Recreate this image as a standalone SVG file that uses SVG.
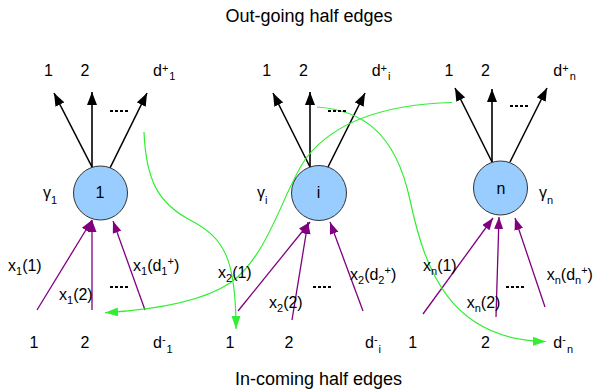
<svg xmlns="http://www.w3.org/2000/svg" width="596" height="389" viewBox="0 0 596 389">
<style>
text{font-family:"Liberation Sans",Arial,sans-serif;fill:#000;font-size:16px}
.t{font-size:18px}
.s{font-size:11px}
.node{fill:#99CCFF;stroke:#333;stroke-width:1}
.out{stroke:#000;stroke-width:1.6;fill:none;marker-end:url(#ab)}
.in{stroke:#800080;stroke-width:1.3;fill:none;marker-end:url(#ap)}
.g{stroke:#33EE33;stroke-width:1.2;fill:none;marker-end:url(#ag)}
.nog{stroke:#33EE33;stroke-width:1.2;fill:none}
.dots{stroke:#000;stroke-width:2;stroke-dasharray:3 2}
</style>
<defs>
<marker id="ab" markerUnits="userSpaceOnUse" markerWidth="14" markerHeight="10" refX="13" refY="5" orient="auto"><path d="M0,0 L13,5 L0,10 z" fill="#000"/></marker>
<marker id="ap" markerUnits="userSpaceOnUse" markerWidth="13" markerHeight="10" refX="12" refY="4.5" orient="auto"><path d="M0,0 L12,4.5 L0,9 z" fill="#800080"/></marker>
<marker id="ag" markerUnits="userSpaceOnUse" markerWidth="14" markerHeight="10" refX="13" refY="4.5" orient="auto"><path d="M0,0 L13,4.5 L0,9 z" fill="#33EE33"/></marker>
</defs>

<text class="t" x="309" y="22" text-anchor="middle">Out-going half edges</text>
<text class="t" x="318.5" y="385" text-anchor="middle">In-coming half edges</text>

<g id="connectors">
<path class="out" d="M92,167 L54,93"/>
<path class="out" d="M92,167 L92,92"/>
<path class="out" d="M110,168 L147,93"/>
<path class="out" d="M310,167 L273,93"/>
<path class="out" d="M310,167 L310,92"/>
<path class="out" d="M328,167 L365,93"/>
<path class="out" d="M492,162 L455,88"/>
<path class="out" d="M492,162 L492,89"/>
<path class="out" d="M510,162 L547,88"/>

<path class="in" d="M37,310 L92,220"/>
<path class="in" d="M92,310 L92,220"/>
<path class="in" d="M145,310 L113,221"/>
<path class="in" d="M238,311 L310,222"/>
<path class="in" d="M292,320 L308,222"/>
<path class="in" d="M363,311 L330,222"/>
<path class="in" d="M423,314 L493,218"/>
<path class="in" d="M496,317 L499,217"/>
<path class="in" d="M545,307 L515,218"/>

<path class="g" d="M144,132 C146,180 158,203 190,220 C225,238 236,260 236,329"/>
<path class="g" d="M452,102.5 C400,104 340,115 307,157 C285,185 270,255 230,283 C200,303 150,310 105,312.7"/>
<path class="g" d="M317,107 C360,110 395,130 410,200 C425,270 450,340 546,341.5"/>

<line class="dots" x1="110" y1="111" x2="128" y2="111"/>
<line class="dots" x1="328" y1="111" x2="347" y2="111"/>
<line class="dots" x1="510" y1="106" x2="528" y2="106"/>
<line class="dots" x1="110" y1="287" x2="128" y2="287"/>
<line class="dots" x1="313" y1="287" x2="332" y2="287"/>
<line class="dots" x1="506" y1="287" x2="524" y2="287"/>
</g>

<g id="node1">
<circle class="node" cx="100.5" cy="193" r="27"/>
<text x="100" y="198" text-anchor="middle">1</text>
<text x="43" y="198">γ<tspan class="s" dy="6">1</tspan></text>
<text x="48.5" y="76" text-anchor="middle">1</text>
<text x="85" y="76" text-anchor="middle">2</text>
<text x="153" y="76">d<tspan class="s" dy="-4">+</tspan><tspan class="s" dx="1" dy="8">1</tspan></text>
<text x="8" y="271">x<tspan class="s" dy="4">1</tspan><tspan dy="-4">(1)</tspan></text>
<text x="59" y="300">x<tspan class="s" dy="4">1</tspan><tspan dy="-4">(2)</tspan></text>
<text x="133" y="271">x<tspan class="s" dy="4">1</tspan><tspan dy="-4">(d</tspan><tspan class="s" dy="4">1</tspan><tspan class="s" dy="-10">+</tspan><tspan dy="6">)</tspan></text>
<text x="34" y="348" text-anchor="middle">1</text>
<text x="85" y="348" text-anchor="middle">2</text>
<text x="153" y="348">d<tspan class="s" dy="-5">-</tspan><tspan class="s" dx="1" dy="10">1</tspan></text>
</g>

<g id="nodei">
<circle class="node" cx="319" cy="193" r="27.5"/>
<text x="318.5" y="198" text-anchor="middle">i</text>
<text x="257" y="198">γ<tspan class="s" dy="6">i</tspan></text>
<text x="266.7" y="76" text-anchor="middle">1</text>
<text x="303.5" y="76" text-anchor="middle">2</text>
<text x="371.7" y="76">d<tspan class="s" dy="-4">+</tspan><tspan class="s" dx="1" dy="8">i</tspan></text>
<text x="218" y="278">x<tspan class="s" dy="4">2</tspan><tspan dy="-4">(1)</tspan></text>
<text x="269" y="308">x<tspan class="s" dy="4">2</tspan><tspan dy="-4">(2)</tspan></text>
<text x="350" y="280">x<tspan class="s" dy="4">2</tspan><tspan dy="-4">(d</tspan><tspan class="s" dy="4">2</tspan><tspan class="s" dy="-10">+</tspan><tspan dy="6">)</tspan></text>
<text x="230" y="348" text-anchor="middle">1</text>
<text x="289" y="348" text-anchor="middle">2</text>
<text x="365" y="348">d<tspan class="s" dy="-5">-</tspan><tspan class="s" dx="1" dy="10">i</tspan></text>
</g>

<g id="noden">
<circle class="node" cx="500.5" cy="188" r="27"/>
<text x="501" y="194" text-anchor="middle">n</text>
<text x="539" y="198">γ<tspan class="s" dy="6">n</tspan></text>
<text x="449" y="76" text-anchor="middle">1</text>
<text x="485.5" y="76" text-anchor="middle">2</text>
<text x="553.3" y="76">d<tspan class="s" dy="-4">+</tspan><tspan class="s" dx="1" dy="8">n</tspan></text>
<text x="423" y="271">x<tspan class="s" dy="4">n</tspan><tspan dy="-4">(1)</tspan></text>
<text x="466.7" y="308">x<tspan class="s" dy="4">n</tspan><tspan dy="-4">(2)</tspan></text>
<text x="546.7" y="280">x<tspan class="s" dy="4">n</tspan><tspan dy="-4">(d</tspan><tspan class="s" dy="4">n</tspan><tspan class="s" dy="-10">+</tspan><tspan dy="6">)</tspan></text>
<text x="412.7" y="348" text-anchor="middle">1</text>
<text x="485.5" y="348" text-anchor="middle">2</text>
<text x="553.3" y="348">d<tspan class="s" dy="-5">-</tspan><tspan class="s" dx="1" dy="10">n</tspan></text>
</g>
</svg>
